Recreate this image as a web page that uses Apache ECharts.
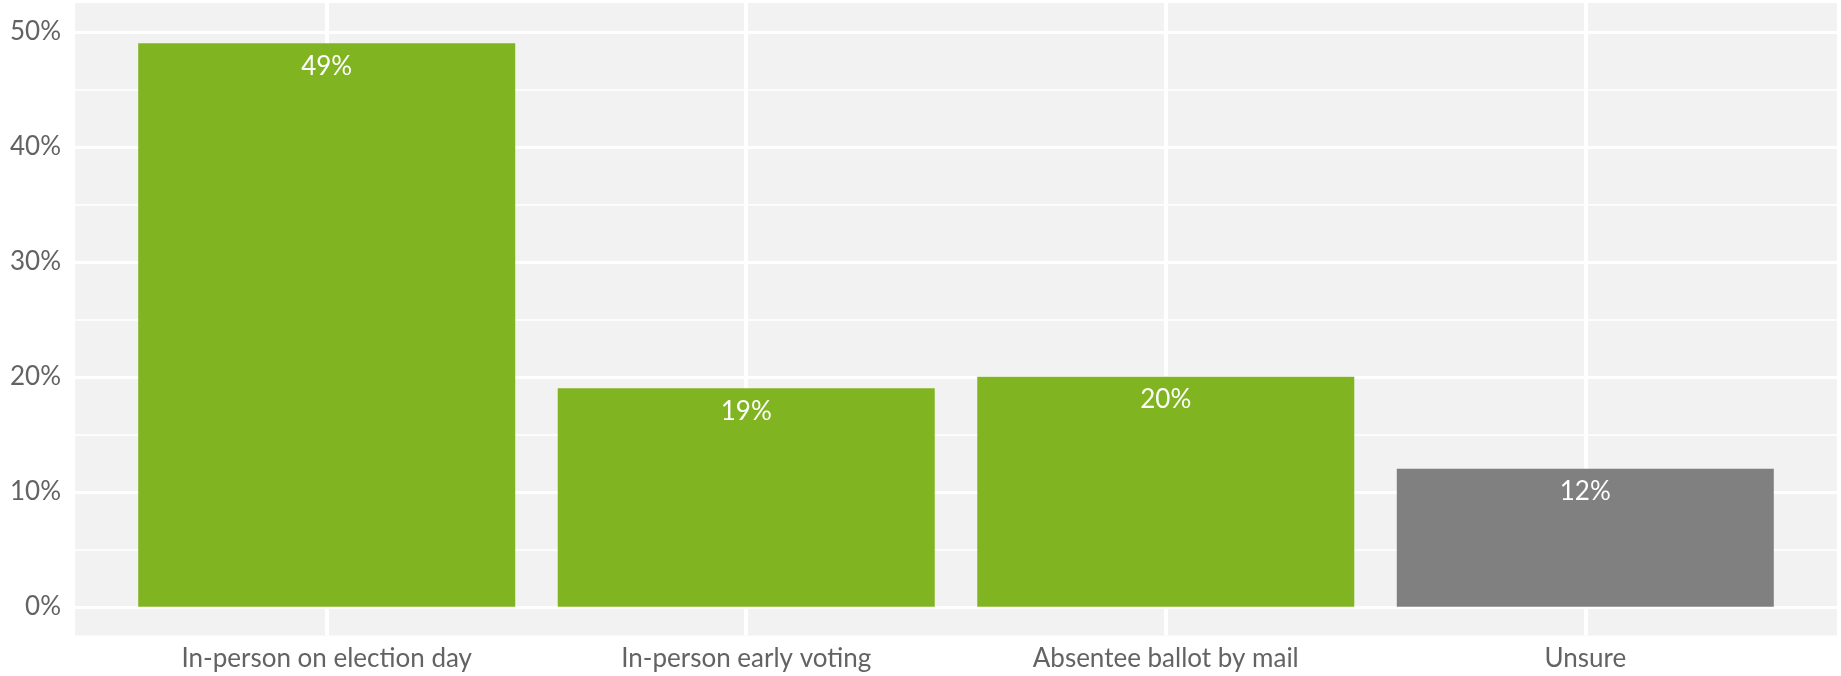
<!DOCTYPE html>
<html>
<head>
<meta charset="utf-8">
<script src="https://cdn.jsdelivr.net/npm/echarts@6/dist/echarts.min.js"></script>
<style>
html,body{margin:0;padding:0;background:#fff;}
#chart{width:1841px;height:676px;}
</style>
</head>
<body>
<div id="chart"></div>
<script>
const categories = ['In-person on election day', 'In-person early voting', 'Absentee ballot by mail', 'Unsure'];
const values = [49, 19, 20, 12];
const barColors = ['#80b521', '#80b521', '#80b521', '#808080'];
const yTickValues = [0, 10, 20, 30, 40, 50];

const T = 'rgba(0,0,0,0)';
const chart = echarts.init(document.getElementById('chart'), null, {renderer: 'canvas'});

const barData = values.map((v, i) => ({
  value: [i + 1, v],
  itemStyle: {color: barColors[i]}
}));

const option = {
  animation: false,
  grid: {
    left: 75, right: 4, top: 3, bottom: 40.5,
    show: true, backgroundColor: '#f2f2f2', borderWidth: 0,
    containLabel: false
  },
  xAxis: {
    type: 'value',
    min: 0.4, max: 4.6, interval: 0.2,
    axisLine: {show: false},
    axisTick: {show: false},
    axisLabel: {
      margin: 10,
      fontFamily: 'Lato', fontSize: 26, color: '#636363',
      formatter: function (v) {
        const r = Math.round(v);
        return Math.abs(v - r) < 1e-6 && r >= 1 && r <= categories.length ? categories[r - 1] : '';
      }
    },
    splitLine: {show: true, lineStyle: {color: [T, T, T, '#ffffff', T], width: 4}}
  },
  yAxis: [{
    type: 'value',
    min: -2.5, max: 52.5, interval: 2.5,
    axisLine: {show: false},
    axisTick: {show: false},
    axisLabel: {
      margin: 14,
      fontFamily: 'Lato', fontSize: 26, color: '#636363',
      formatter: function (v) {
        const r = Math.round(v);
        return (Math.abs(v - r) < 1e-6 && yTickValues.indexOf(r) >= 0) ? r + '%' : '';
      }
    },
    splitLine: {show: true, lineStyle: {color: [T, '#ffffff', T, T], width: 3}}
  }, {
    type: 'value',
    position: 'left',
    min: -2.5, max: 52.5, interval: 2.5,
    axisLine: {show: false},
    axisTick: {show: false},
    axisLabel: {show: false},
    splitLine: {show: true, lineStyle: {color: [T, T, T, '#ffffff'], width: 1.5}}
  }],
  series: [{
    type: 'bar',
    data: barData,
    barWidth: 377,
    yAxisIndex: 0,
    z: 3,
    label: {
      show: true,
      position: 'insideTop',
      distance: 10,
      fontFamily: 'Lato', fontSize: 26, color: '#ffffff',
      formatter: p => p.value[1] + '%'
    }
  }]
};
chart.setOption(option);
</script>
</body>
</html>
